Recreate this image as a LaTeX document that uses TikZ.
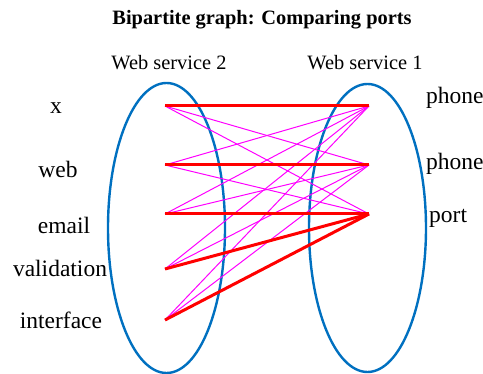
\documentclass[tikz,border=0pt]{standalone}
\usepackage{fontspec}
\setmainfont{Liberation Serif}
\definecolor{ellblue}{RGB}{0,112,192}
\definecolor{brightmag}{RGB}{255,0,255}
\begin{document}
\begin{tikzpicture}[x=1pt,y=-1pt,
  lbl/.style={inner sep=0pt,font=\fontsize{23.5}{27}\selectfont},
  hdr/.style={inner sep=0pt,font=\fontsize{20.4}{24}\selectfont},
  ttl/.style={inner sep=0pt,font=\fontsize{20.4}{24}\selectfont\bfseries},
  grp/.style={draw=ellblue,line width=2.4pt},
  strong/.style={draw=red,line width=3pt},
  weak/.style={draw=brightmag,line width=1pt}]
\useasboundingbox (0,0) rectangle (483,374);
% ellipses
\draw[grp] (166.5,228) ellipse [x radius=58.5, y radius=145];
\draw[grp] (367.5,228) ellipse [x radius=58.5, y radius=144];
% vertices
\coordinate (L1) at (165,106);
\coordinate (L2) at (165,165);
\coordinate (L3) at (165,214);
\coordinate (L4) at (165,269);
\coordinate (L5) at (165,320);
\coordinate (R1) at (369,106);
\coordinate (R2) at (369,165);
\coordinate (R3) at (369,214);
% weak edges
\foreach \l/\r in {L1/R2,L1/R3,L2/R1,L2/R3,L3/R1,L3/R2,L4/R1,L4/R2,L5/R1,L5/R2}
  \draw[weak] (\l) -- (\r);
% strong edges
\foreach \l/\r in {L1/R1,L2/R2,L3/R3,L4/R3,L5/R3}
  \draw[strong] (\l) -- (\r);
% texts
\node[ttl,anchor=base] (title) at (262,25) {Bipartite graph: Comparing ports};
\node[hdr,anchor=base] (ws2) at (169,70) {Web service 2};
\node[hdr,anchor=base] (ws1) at (365,70) {Web service 1};
\node[lbl,anchor=base] (tx) at (56,114) {x};
\node[lbl,anchor=base] (tweb) at (58,178) {web};
\node[lbl,anchor=base] (temail) at (64,234) {email};
\node[lbl,anchor=base] (tval) at (60,277) {validation};
\node[lbl,anchor=base] (tint) at (61,329) {interface};
\node[lbl,anchor=base west] (tph1) at (426,104) {phone};
\node[lbl,anchor=base west] (tph2) at (426,170) {phone};
\node[lbl,anchor=base west] (tport) at (429,223) {port};
\end{tikzpicture}
\end{document}
